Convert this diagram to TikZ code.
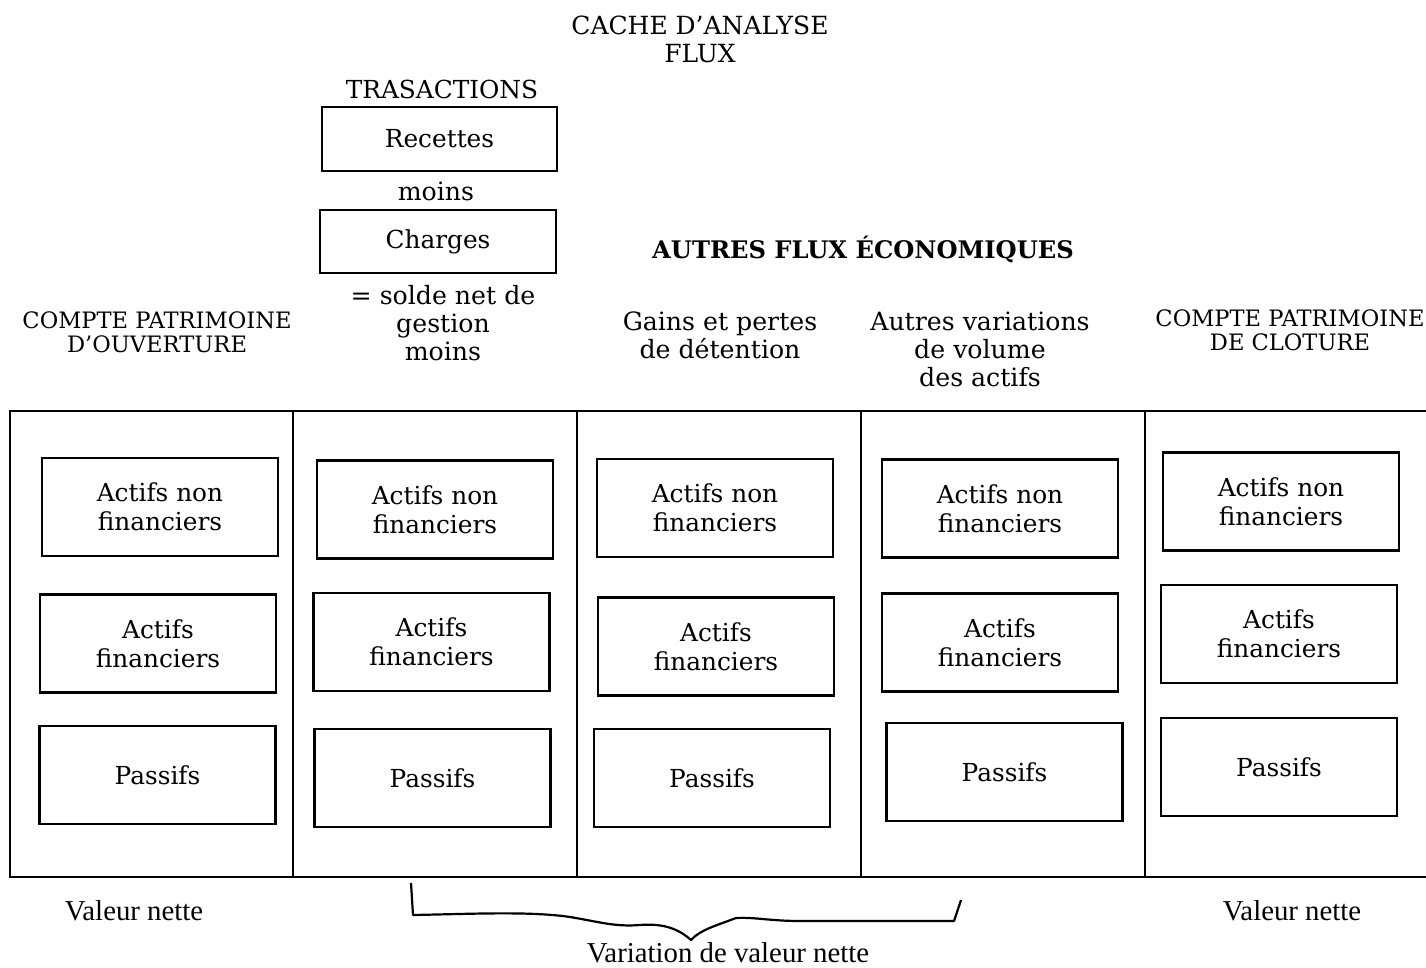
\documentclass[tikz,border=0pt]{standalone}
\usepackage{fontspec}
\setmainfont{DejaVu Serif}
\newfontfamily\condfont{Liberation Serif}
\begin{document}
\begin{tikzpicture}[x=0.5pt,y=-0.5pt,
  box/.style={draw, line width=1.3pt, minimum width=118pt, minimum height=49pt, inner sep=0pt, align=center, font=\fontsize{12.4}{14.5}\selectfont},
  lbl/.style={align=center, inner sep=0pt, font=\fontsize{12.6}{14}\selectfont},
  caps/.style={align=center, inner sep=0pt, font=\fontsize{11.3}{12}\selectfont},
  cond/.style={inner sep=0pt, font=\condfont\fontsize{14.4}{16}\selectfont},
  tbl/.style={line width=1pt},
  brace/.style={line width=1.1pt, line join=round}]
\useasboundingbox (0,0) rectangle (1426,968);
% titles
\node[caps, font=\fontsize{12.5}{14}\selectfont] (cache) at (700,39) {CACHE D’ANALYSE\\FLUX};
\node[caps, font=\fontsize{12.4}{12}\selectfont] (trans) at (442,89) {TRASACTIONS};
\node[box, minimum width=117.5pt, minimum height=32pt] (rec) at (439.5,139) {Recettes};
\node[lbl] (moins1) at (436,191) {moins};
\node[box, minimum width=118pt, minimum height=31.5pt] (chg) at (438,241.5) {Charges};
\node[lbl, font=\bfseries\fontsize{12.1}{14}\selectfont] (autres) at (863,249) {AUTRES FLUX ÉCONOMIQUES};
\node[lbl] (solde) at (443,323) {= solde net de\\gestion\\moins};
\node[caps] (cpo) at (157,332) {COMPTE PATRIMOINE\\D’OUVERTURE};
\node[lbl] (gains) at (720,335) {Gains et pertes\\de détention};
\node[lbl] (avv) at (980,349) {Autres variations\\de volume\\des actifs};
\node[caps] (cpc) at (1290,330) {COMPTE PATRIMOINE\\DE CLOTURE};
% table
\coordinate (tl) at (10,411);
\coordinate (tr) at (1426,411);
\coordinate (bl) at (10,877);
\coordinate (br) at (1426,877);
\draw[tbl] (tr) -- (tl) -- (bl) -- (br);
\foreach \x in {293,577,861,1145} \draw[tbl] (\x,411) -- (\x,877);
% column 1
\node[box] (a1) at (160,507) {Actifs non\\financiers};
\node[box] (f1) at (158,643.5) {Actifs\\financiers};
\node[box] (p1) at (157.5,775) {Passifs};
% column 2
\node[box] (a2) at (435,509.5) {Actifs non\\financiers};
\node[box] (f2) at (431.5,642) {Actifs\\financiers};
\node[box] (p2) at (432.5,778) {Passifs};
% column 3
\node[box] (a3) at (715,508) {Actifs non\\financiers};
\node[box] (f3) at (716,646.5) {Actifs\\financiers};
\node[box] (p3) at (712,778) {Passifs};
% column 4
\node[box] (a4) at (1000,508.5) {Actifs non\\financiers};
\node[box] (f4) at (1000,642.5) {Actifs\\financiers};
\node[box] (p4) at (1004.5,772) {Passifs};
% column 5
\node[box] (a5) at (1281,501.5) {Actifs non\\financiers};
\node[box] (f5) at (1279,634) {Actifs\\financiers};
\node[box] (p5) at (1279,767) {Passifs};
% bottom
\node[cond] (vn1) at (134,911) {Valeur nette};
\node[cond] (vn2) at (1292,911) {Valeur nette};
\node[cond, anchor=base] (var) at (728,962) {Variation de valeur nette};
\draw[brace] (411,883) -- (413,915)
  .. controls (470,914) and (530,911) .. (570,917)
  .. controls (600,922) and (615,927) .. (640,925)
  .. controls (665,923) and (680,930) .. (691,940)
  .. controls (700,930) and (715,926) .. (736,918)
  .. controls (755,917) and (770,921) .. (800,921)
  -- (954,921) -- (961,900);
\end{tikzpicture}
\end{document}
